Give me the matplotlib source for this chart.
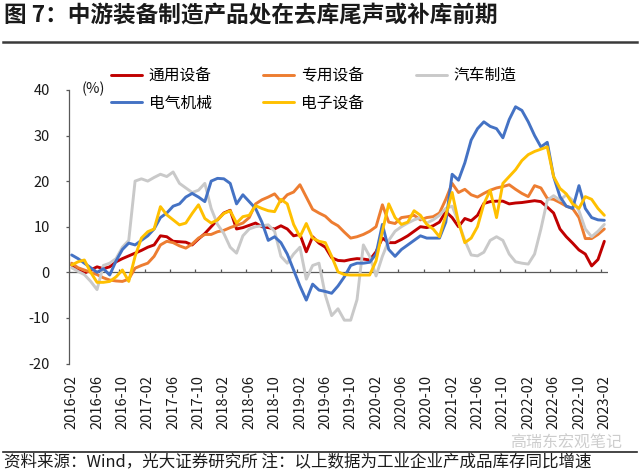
import matplotlib
matplotlib.use('Agg')
import matplotlib.pyplot as plt
from matplotlib.lines import Line2D
import numpy as np
import pandas as pd

plt.rcParams['font.family'] = ['Noto Sans CJK SC', 'DejaVu Sans']
plt.rcParams['axes.unicode_minus'] = False

# ---- data -------------------------------------------------------------
months = pd.period_range('2016-02', '2023-02', freq='M').strftime('%Y-%m').tolist()

names = ['通用设备', '专用设备', '汽车制造', '电气机械', '电子设备']

tongyong = [1.6, 0.5, -0.2, 0.5, 1.2, 0.8, 1.2, 2.3, 3.0, 3.6,
            4.2, 4.8, 5.5, 6.0, 8.0, 7.8, 6.8, 6.7, 6.6, 6.0,
            7.3, 8.5, 10.0, 11.5, 13.0, 13.6, 9.5, 9.8, 10.3, 10.8,
            10.0, 9.8, 9.5, 10.2, 9.5, 8.0, 8.3, 4.5, 7.8, 6.4,
            5.5, 3.2, 2.6, 2.5, 2.8, 3.0, 2.9, 2.7, 4.5, 7.5,
            6.5, 6.5, 7.2, 8.0, 9.0, 10.0, 9.8, 10.2, 11.0, 13.3,
            12.0, 10.0, 11.8, 11.3, 12.5, 15.1, 15.5, 15.6, 15.6, 15.0,
            15.2, 15.3, 15.5, 15.7, 15.5, 14.3, 13.0, 9.5, 7.8, 6.4,
            4.9, 4.0, 1.4, 2.8, 6.8]

zhuanyong = [2.0, 1.0, 0.5, 0.0, -0.5, -1.2, -1.7, -1.9, -2.0, -1.5,
             0.9, 1.5, 2.0, 3.5, 6.0, 6.8, 6.5, 5.8, 5.3, 6.2,
             7.5, 8.3, 8.3, 8.9, 9.2, 9.8, 10.3, 10.8, 12.0, 15.0,
             15.9, 16.5, 17.2, 15.5, 17.0, 17.6, 19.2, 16.5, 13.8, 13.0,
             12.3, 11.0, 10.2, 8.8, 7.5, 7.8, 8.3, 9.0, 10.0, 14.8,
             11.0, 10.7, 12.0, 12.2, 12.5, 11.5, 12.0, 12.2, 13.0, 16.0,
             19.5, 17.5, 18.2, 17.0, 16.5, 17.3, 18.0, 18.5, 18.8, 19.2,
             18.2, 17.3, 16.6, 19.0, 18.5, 16.2, 16.0, 15.3, 14.5, 14.0,
             12.0, 7.4, 7.4, 8.3, 9.5]

qiche = [1.0, 0.2, -0.5, -2.0, -3.8, 1.5, 2.0, 3.0, 5.5, 7.0,
         20.0, 20.5, 20.0, 20.8, 21.5, 21.0, 22.0, 19.5, 18.5, 17.5,
         18.0, 19.5, 14.0, 10.5, 8.5, 5.5, 4.2, 8.0, 9.5, 10.0,
         10.2, 10.4, 9.0, 3.5, 2.0, 4.0, 5.5, -1.5, 1.5, 2.0,
         -5.0, -9.5, -8.0, -10.5, -10.5, -6.0, 6.0, 3.5, -0.8, 3.5,
         7.0, 9.0, 10.0, 10.8, 11.5, 12.0, 10.8, 11.5, 12.5, 14.0,
         14.5, 11.0, 7.0, 3.8, 3.6, 4.4, 7.0, 7.8, 7.0, 4.0,
         2.3, 2.0, 1.8, 4.0, 9.5, 15.8, 16.8, 15.8, 17.0, 15.8,
         13.5, 9.5, 7.8, 9.0, 10.5]

dianqi = [3.8, 3.0, 2.0, 1.0, 0.0, 0.8, -0.6, 2.5, 5.0, 6.4,
          6.0, 7.0, 8.0, 9.5, 12.0, 13.0, 14.5, 15.0, 16.5, 17.3,
          16.5, 15.5, 20.0, 20.6, 20.5, 19.5, 15.0, 17.0, 15.5, 14.0,
          11.0, 7.0, 7.8, 6.5, 4.0, 0.5, -3.0, -6.1, -2.6, -3.9,
          -4.2, -4.6, -3.0, -1.0, 1.5, 2.0, 2.0, 2.2, 4.0, 10.5,
          5.0, 3.5, 5.0, 6.0, 7.0, 8.0, 7.5, 7.5, 7.5, 11.0,
          21.5, 20.2, 24.0, 29.0, 31.5, 33.0, 32.0, 31.5, 29.5, 33.5,
          36.3, 35.5, 33.0, 30.0, 27.5, 28.5, 21.0, 16.6, 14.5, 14.0,
          19.0, 14.0, 12.0, 11.5, 11.4]

dianzi = [1.6, 2.3, 2.7, 0.0, -2.2, -2.2, -2.0, -1.0, 0.5, -2.0,
          3.5, 7.5, 8.9, 9.5, 14.4, 12.6, 11.5, 10.4, 10.8, 12.9,
          14.8, 11.8, 10.8, 11.5, 12.9, 13.5, 10.8, 12.2, 12.5, 14.6,
          14.0, 13.5, 13.3, 16.0, 15.0, 10.5, 7.8, 10.7, 7.5, 6.8,
          6.5, 3.5, 0.1, -0.5, -0.6, -0.6, -0.6, -0.6, 2.5, 9.0,
          15.0, 12.0, 10.5, 11.0, 13.5, 12.5, 10.5, 9.5, 7.8, 12.5,
          17.5, 11.0, 6.5, 7.5, 10.0, 15.0, 18.0, 12.0, 19.5, 21.0,
          22.5, 24.5, 25.8, 26.5, 27.0, 27.5, 21.0, 18.4, 17.2, 15.0,
          14.0, 16.6, 16.0, 14.0, 12.5]

series = [tongyong, zhuanyong, qiche, dianqi, dianzi]
colors = ['#C00000', '#ED7D31', '#C9C9C9', '#4472C4', '#FFC000']

yticks = [-20, -10, 0, 10, 20, 30, 40]
label_step = 4

# ---- figure -----------------------------------------------------------
W, H = 640, 475
fig = plt.figure(figsize=(W / 100, H / 100), dpi=100)
ax_l, ax_r, ax_t, ax_b = 68.5, 607.5, 89.9, 363.5
ax = fig.add_axes([ax_l / W, 1 - ax_b / H, (ax_r - ax_l) / W, (ax_b - ax_t) / H])

x = np.arange(len(months))
handles = []
for vals, name, c in zip(series, names, colors):
    h, = ax.plot(x, vals, color=c, lw=2.1, label=name,
                 solid_joinstyle='round', solid_capstyle='round')
    handles.append(h)

ax.set_xlim(-0.5, len(months) - 0.5)
ax.set_ylim(yticks[0], yticks[-1])

axis_col = '#595959'
for s in ['top', 'right', 'bottom']:
    ax.spines[s].set_visible(False)
ax.spines['left'].set_color(axis_col)
ax.spines['left'].set_linewidth(0.9)

ax.axhline(0, color=axis_col, lw=0.9, zorder=1)
tick_pos = np.arange(-0.5, len(months), label_step)
ax.vlines(tick_pos, 0, 0.7, color=axis_col, lw=0.9, zorder=1)

ax.set_xticks(x[::label_step])
ax.set_xticklabels(months[::label_step], rotation=90, fontsize=10.5, color='#1a1a1a')
ax.tick_params(axis='x', length=0, pad=8.3)

ax.set_yticks(yticks)
ax.set_yticklabels([str(v) for v in yticks], fontsize=10.5, color='#1a1a1a')
ax.tick_params(axis='y', direction='out', length=2.5, width=0.9, color=axis_col, pad=11)

fig.text(82 / W, 1 - 89 / H, '(%)', fontsize=10.5, va='center', ha='left', color='#1a1a1a')

order = [0, 3, 1, 4, 2]
fig.legend([handles[i] for i in order], [names[i] for i in order],
           ncol=3, loc='upper left', bbox_to_anchor=(111 / W, 1 - 67 / H),
           frameon=False, fontsize=11.3, handlelength=1.95, handletextpad=0.45,
           columnspacing=3.3, labelspacing=0.7, borderpad=0, borderaxespad=0)

# title, rules, footer
fig.text(4 / W, 1 - 16 / H, '图 7：中游装备制造产品处在去库尾声或补库前期',
         fontsize=16.3, fontweight='bold', va='center', ha='left', color='#1a1a1a')
fig.add_artist(Line2D([3 / W, 637 / W], [1 - 41.7 / H] * 2, lw=1.8, color='#3a3a3a'))
fig.add_artist(Line2D([3 / W, 637 / W], [1 - 451.7 / H] * 2, lw=1.2, color='#262626'))
fig.text(510 / W, 1 - 443 / H, '高瑞东宏观笔记', fontsize=11.5, color='#c8c8c8',
         va='center', ha='left', alpha=0.9)
fig.text(4 / W, 1 - 462 / H, '资料来源：Wind，光大证券研究所 注：以上数据为工业企业产成品库存同比增速',
         fontsize=11.9, va='center', ha='left', color='#1a1a1a')

fig.savefig('out.png', dpi=100)
